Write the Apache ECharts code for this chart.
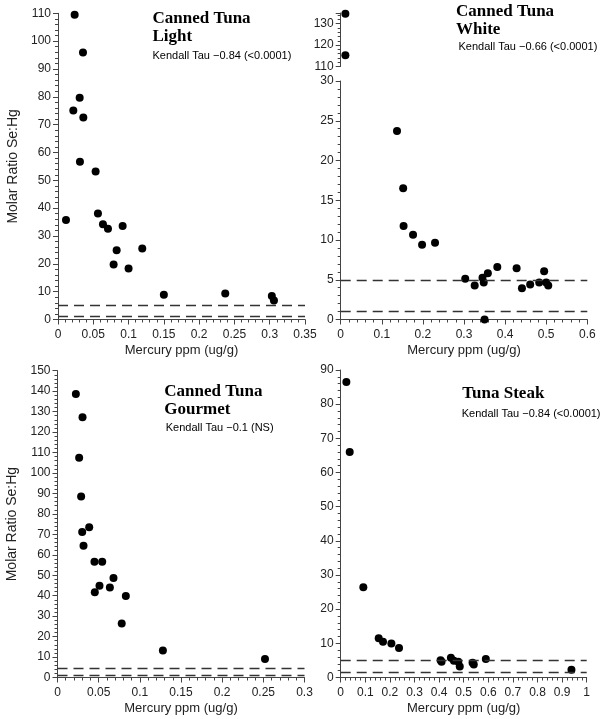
<!DOCTYPE html>
<html><head><meta charset="utf-8">
<script src="https://cdn.jsdelivr.net/npm/echarts@6/dist/echarts.min.js"></script>
<style>html,body{margin:0;padding:0;background:#fff}#c{width:606px;height:719px}</style>
</head><body><div id="c"></div><script>
// Canned Tuna Light
const lightHg    = [0.0236,0.0354,0.0307,0.0217,0.0359,0.0311,0.0533,0.0113,0.0566,0.0637,0.0708,0.0916,0.0831,0.0788,0.100,0.1194,0.150,0.237,0.303,0.306];
const lightRatio = [109.5,95.9,79.7,75.1,72.6,56.7,53.2,35.7,38.1,34.2,32.6,33.6,24.9,19.8,18.3,25.5,8.9,9.3,8.4,6.8];
// Canned Tuna White (upper broken segment)
const whiteHiHg    = [0.0114,0.0114];
const whiteHiRatio = [134.7,115.2];
// Canned Tuna White (lower segment)
const whiteHg    = [0.137,0.152,0.153,0.176,0.198,0.2295,0.303,0.326,0.345,0.348,0.358,0.381,0.350,0.428,0.441,0.461,0.483,0.495,0.500,0.505];
const whiteRatio = [23.7,16.5,11.75,10.66,9.4,9.65,5.12,4.28,5.25,4.66,5.83,6.59,0,6.46,3.94,4.41,4.66,6.08,4.66,4.28];
// Canned Tuna Gourmet
const gourmetHg    = [0.0223,0.0304,0.0263,0.0287,0.030,0.0385,0.0316,0.0449,0.0543,0.0453,0.051,0.0636,0.068,0.083,0.078,0.128,0.252];
const gourmetRatio = [138.6,127.2,107.5,88.5,71.1,73.5,64.4,56.6,56.6,41.7,44.8,44.0,48.6,39.8,26.4,13.2,9.0];
// Tuna Steak
const steakHg    = [0.023,0.0366,0.092,0.1545,0.172,0.206,0.237,0.406,0.410,0.448,0.460,0.478,0.484,0.536,0.541,0.590,0.938];
const steakRatio = [86.5,66.0,26.4,11.5,10.5,9.96,8.6,5.08,4.6,5.76,4.88,4.6,3.2,4.3,3.8,5.4,2.25];
// reference (dashed) lines per panel
const refLight   = [5, 1];
const refWhite   = [5, 1.1];
const refGourmet = [4.4, 1.0];
const refSteak   = [5, 1.5];

const titles = [
  ['Canned Tuna','Light','Kendall Tau \u22120.84 (<0.0001)'],
  ['Canned Tuna','White','Kendall Tau \u22120.66 (<0.0001)'],
  ['Canned Tuna','Gourmet','Kendall Tau \u22120.1 (NS)'],
  ['Tuna Steak','Kendall Tau \u22120.84 (<0.0001)']
];
const xName = 'Mercury ppm (ug/g)';
const yName = 'Molar Ratio Se:Hg';

const FONT = 'Liberation Sans, Arial, sans-serif';
const SERIF = 'Liberation Serif, Times New Roman, serif';
const AX = '#444';

function zip(a,b){return a.map((v,i)=>[v,b[i]]);}

function xAx(gi, max, interval, show){
  return {type:'value', gridIndex:gi, min:0, max:max, interval:interval, show:show!==false,
    name: xName, nameLocation:'middle', nameGap:24,
    nameTextStyle:{fontFamily:FONT,fontSize:13,color:'#222',verticalAlign:'top'},
    axisLine:{show:true,onZero:false,lineStyle:{color:AX,width:1}},
    axisTick:{show:true,length:5,lineStyle:{color:AX}},
    minorTick:{show:true,splitNumber:5,length:3,lineStyle:{color:AX}},
    splitLine:{show:false},
    axisLabel:{fontFamily:FONT,fontSize:12,color:'#222',margin:9,showMinLabel:true,showMaxLabel:true}
  };
}
function yAx(gi, min, max, interval, name, extra){
  const o = {type:'value', gridIndex:gi, min:min, max:max, interval:interval,
    name: name||'', nameLocation:'middle', nameGap:38,
    nameTextStyle:{fontFamily:FONT,fontSize:14,color:'#222'},
    axisLine:{show:true,onZero:false,lineStyle:{color:AX,width:1}},
    axisTick:{show:true,length:5,lineStyle:{color:AX}},
    minorTick:{show:true,splitNumber:5,length:3,lineStyle:{color:AX}},
    splitLine:{show:false},
    axisLabel:{fontFamily:FONT,fontSize:12,color:'#222',margin:7}
  };
  return Object.assign(o, extra||{});
}
function sc(idx, data, refs){
  const s = {type:'scatter', xAxisIndex:idx, yAxisIndex:idx, data:data, symbol:'circle', symbolSize:8,
    itemStyle:{color:'#000',opacity:1}, silent:true, z:3};
  if(refs){
    s.markLine = {symbol:'none', silent:true, label:{show:false},
      lineStyle:{color:'#333',type:[10,6],width:1.3,opacity:1},
      data: refs.map(v=>({yAxis:v}))};
  }
  return s;
}

function txt(x,y,text,serif){
  return {type:'text', x:x, y:y, style:{text:text, fill:'#000',
    font: serif ? 'bold 17px '+SERIF : '11px '+FONT, textVerticalAlign:'middle'}};
}

const chart = echarts.init(document.getElementById('c'), null, {renderer:'canvas'});
chart.setOption({
  animation:false,
  backgroundColor:'#fff',
  grid:[
    {left:58,  top:13.3, width:247, height:306.2},
    {left:340.7, top:81, width:246.6, height:238.5},
    {left:340.7, top:13, width:246.6, height:53.5},
    {left:57.5, top:370.7, width:247, height:306.8},
    {left:340.7, top:370, width:246, height:307.5}
  ],
  xAxis:[
    xAx(0,0.35,0.05),
    xAx(1,0.6,0.1),
    xAx(2,0.6,0.1,false),
    xAx(3,0.3,0.05),
    xAx(4,1,0.1)
  ],
  yAxis:[
    yAx(0,0,110,10,yName),
    yAx(1,0,30,5),
    yAx(2,110,135,10,'',{axisLabel:{fontFamily:FONT,fontSize:12,color:'#222',margin:7,showMaxLabel:false}}),
    yAx(3,0,150,10,yName),
    yAx(4,0,90,10)
  ],
  series:[
    sc(0, zip(lightHg,lightRatio), refLight),
    sc(1, zip(whiteHg,whiteRatio), refWhite),
    sc(2, zip(whiteHiHg,whiteHiRatio)),
    sc(3, zip(gourmetHg,gourmetRatio), refGourmet),
    sc(4, zip(steakHg,steakRatio), refSteak)
  ],
  graphic:[
    txt(152.5,19,titles[0][0],true), txt(152.5,37,titles[0][1],true), txt(152.5,55.5,titles[0][2]),
    txt(456,11.5,titles[1][0],true), txt(456,29.5,titles[1][1],true), txt(458.5,46.7,titles[1][2]),
    txt(164.3,391.5,titles[2][0],true), txt(164.3,409.5,titles[2][1],true), txt(165.7,427.5,titles[2][2]),
    txt(462.3,393.5,titles[3][0],true), txt(461.7,414,titles[3][1])
  ]
});
</script></body></html>
